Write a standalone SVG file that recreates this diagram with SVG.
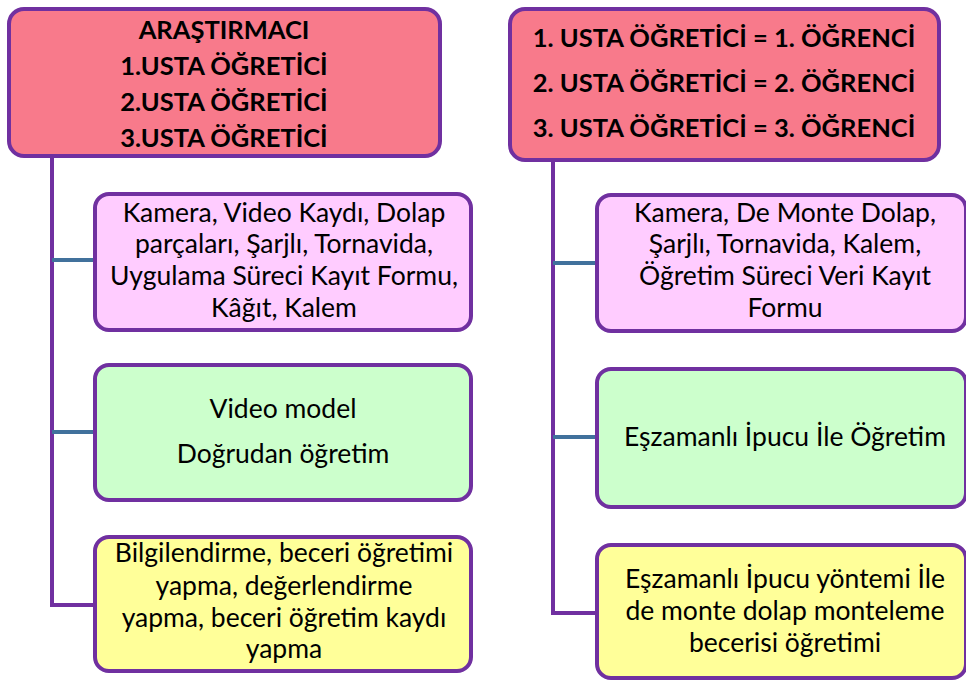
<svg xmlns="http://www.w3.org/2000/svg" width="966" height="680" viewBox="0 0 966 680">
<style>
.box{stroke:#7030A0;stroke-width:4}
.top{fill:#F87A8B}
.pink{fill:#FFCCFF}
.green{fill:#CCFFCC}
.yellow{fill:#FFFF99}
.t{font-family:Lato,"Open Sans","Liberation Sans",sans-serif;fill:#000;text-anchor:middle}
.b{font-weight:bold;font-size:25.5px}
.r{font-size:26.5px}
.vl{stroke:#7030A0;stroke-width:4;fill:none}
.hl{stroke:#41719C;stroke-width:4;fill:none}
</style>
<rect width="966" height="680" fill="#fff"/>
<g id="connectors">
<path class="vl" d="M52 156 V605 H95"/>
<path class="hl" d="M52 260 H95 M52 432 H95"/>
<path class="vl" d="M553 160 V613 H597"/>
<path class="hl" d="M553 263 H597 M553 437 H597"/>
</g>
<g id="left-top">
<rect class="box top" x="9" y="9" width="431" height="147" rx="15"/>
<text class="t b" x="224" y="39">ARAŞTIRMACI</text>
<text class="t b" x="224" y="75">1.USTA ÖĞRETİCİ</text>
<text class="t b" x="224" y="111">2.USTA ÖĞRETİCİ</text>
<text class="t b" x="224" y="147">3.USTA ÖĞRETİCİ</text>
</g>
<g id="left-materials">
<rect class="box pink" x="95" y="194" width="376" height="136" rx="14"/>
<text class="t r" x="284" y="222">Kamera, Video Kaydı, Dolap</text>
<text class="t r" x="284" y="253">parçaları, Şarjlı, Tornavida,</text>
<text class="t r" x="284" y="285">Uygulama Süreci Kayıt Formu,</text>
<text class="t r" x="284" y="317">Kâğıt, Kalem</text>
</g>
<g id="left-method">
<rect class="box green" x="95" y="365" width="376" height="135" rx="14"/>
<text class="t r" x="283" y="418">Video model</text>
<text class="t r" x="283" y="463">Doğrudan öğretim</text>
</g>
<g id="left-process">
<rect class="box yellow" x="95" y="537" width="376" height="134" rx="14"/>
<text class="t r" x="284" y="562">Bilgilendirme, beceri öğretimi</text>
<text class="t r" x="284" y="595">yapma, değerlendirme</text>
<text class="t r" x="284" y="627">yapma, beceri öğretim kaydı</text>
<text class="t r" x="284" y="658">yapma</text>
</g>
<g id="right-top">
<rect class="box top" x="510" y="9" width="429" height="151" rx="15"/>
<text class="t b" x="724" y="47">1. USTA ÖĞRETİCİ = 1. ÖĞRENCİ</text>
<text class="t b" x="724" y="92">2. USTA ÖĞRETİCİ = 2. ÖĞRENCİ</text>
<text class="t b" x="724" y="137">3. USTA ÖĞRETİCİ = 3. ÖĞRENCİ</text>
</g>
<g id="right-materials">
<rect class="box pink" x="597" y="195" width="369" height="136" rx="14"/>
<text class="t r" x="785" y="222">Kamera, De Monte Dolap,</text>
<text class="t r" x="785" y="253">Şarjlı, Tornavida, Kalem,</text>
<text class="t r" x="785" y="285">Öğretim Süreci Veri Kayıt</text>
<text class="t r" x="785" y="317">Formu</text>
</g>
<g id="right-method">
<rect class="box green" x="597" y="369" width="369" height="138" rx="14"/>
<text class="t r" x="785" y="446">Eşzamanlı İpucu İle Öğretim</text>
</g>
<g id="right-process">
<rect class="box yellow" x="597" y="545" width="369" height="133" rx="14"/>
<text class="t r" x="785" y="588">Eşzamanlı İpucu yöntemi İle</text>
<text class="t r" x="785" y="620">de monte dolap monteleme</text>
<text class="t r" x="785" y="652">becerisi öğretimi</text>
</g>
</svg>
